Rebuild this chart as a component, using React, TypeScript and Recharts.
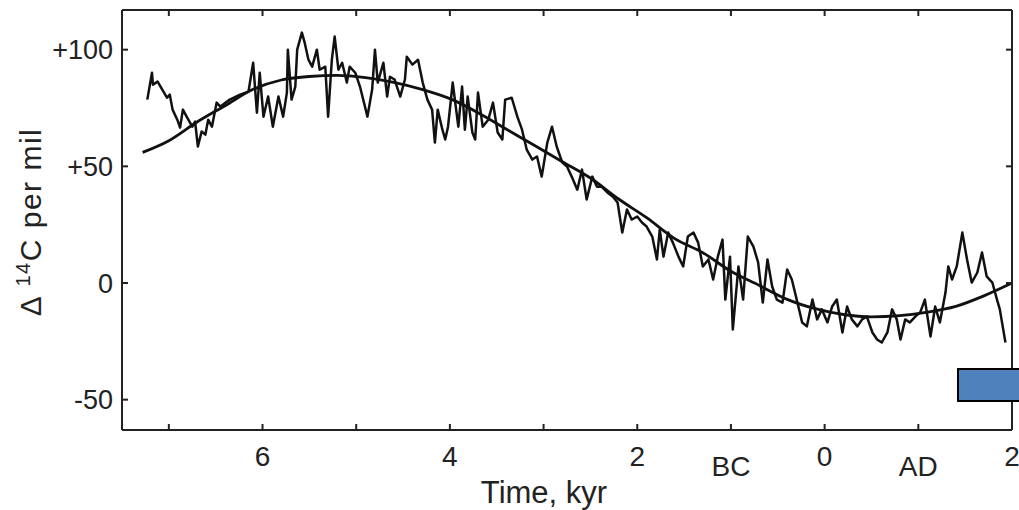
import { CartesianGrid, Line, LineChart, XAxis, YAxis } from 'recharts';

// time in kyr (negative = BC), values in per mil
const noisyTime = [
    -7.23, -7.18, -7.17, -7.12, -7.07, -7.02, -6.99, -6.96, -6.91, -6.88, -6.85, -6.81, -6.75, -6.72, -6.69, -6.65, -6.61, -6.58, -6.54, -6.49,
    -6.45, -6.35, -6.24, -6.15, -6.10, -6.06, -6.03, -5.99, -5.94, -5.89, -5.83, -5.78, -5.74, -5.73, -5.69, -5.65, -5.63, -5.58, -5.55, -5.51,
    -5.47, -5.42, -5.39, -5.33, -5.30, -5.26, -5.23, -5.19, -5.15, -5.10, -5.07, -5.01, -4.96, -4.88, -4.83, -4.80, -4.77, -4.71, -4.67, -4.64,
    -4.59, -4.53, -4.48, -4.46, -4.40, -4.34, -4.29, -4.24, -4.19, -4.16, -4.13, -4.08, -4.05, -4.02, -3.97, -3.91, -3.87, -3.84, -3.81, -3.76,
    -3.73, -3.70, -3.65, -3.59, -3.54, -3.49, -3.44, -3.41, -3.34, -3.28, -3.23, -3.18, -3.12, -3.07, -3.02, -2.96, -2.91, -2.86, -2.80, -2.75,
    -2.70, -2.64, -2.59, -2.54, -2.48, -2.43, -2.38, -2.32, -2.26, -2.21, -2.16, -2.11, -2.06, -2.00, -1.95, -1.90, -1.84, -1.79, -1.76, -1.72,
    -1.67, -1.62, -1.56, -1.51, -1.46, -1.40, -1.35, -1.30, -1.24, -1.19, -1.14, -1.09, -1.06, -1.01, -0.98, -0.92, -0.87, -0.82, -0.76, -0.71,
    -0.66, -0.61, -0.56, -0.51, -0.45, -0.40, -0.35, -0.29, -0.24, -0.19, -0.13, -0.08, -0.03, 0.03, 0.08, 0.13, 0.19, 0.24, 0.29, 0.35,
    0.40, 0.45, 0.51, 0.56, 0.61, 0.67, 0.72, 0.77, 0.81, 0.86, 0.91, 0.97, 1.02, 1.07, 1.13, 1.18, 1.23, 1.29, 1.32, 1.36,
    1.41, 1.47, 1.52, 1.57, 1.63, 1.68, 1.73, 1.79, 1.84, 1.87, 1.93,
];
const noisyValue = [
    78.6, 90.1, 85.0, 86.3, 82.9, 79.4, 80.7, 74.3, 70.0, 66.6, 74.3, 71.3, 67.0, 69.2, 58.5, 64.9, 63.6, 70.0, 67.0, 77.3,
    75.6, 78.6, 80.7, 82.0, 94.4, 73.0, 90.1, 71.3, 79.9, 67.0, 79.9, 71.3, 81.6, 100.0, 78.6, 84.2, 100.0, 107.3, 103.0, 95.7,
    92.7, 100.0, 91.4, 92.7, 71.3, 95.7, 105.6, 91.4, 94.4, 85.9, 92.7, 90.1, 84.2, 71.3, 82.9, 100.0, 85.9, 94.4, 79.9, 88.4,
    87.2, 79.9, 87.2, 97.0, 93.6, 95.7, 85.9, 78.6, 74.3, 60.2, 74.3, 65.7, 61.5, 67.0, 85.9, 67.0, 84.2, 65.7, 79.9, 64.5,
    61.5, 81.6, 67.0, 70.0, 77.3, 64.5, 61.5, 78.6, 79.4, 71.3, 65.7, 57.2, 52.9, 54.2, 45.6, 60.2, 67.0, 58.5, 51.6, 49.9,
    45.6, 40.0, 48.6, 35.8, 45.6, 41.3, 41.3, 38.8, 37.0, 34.5, 21.6, 31.5, 27.2, 28.5, 25.9, 24.2, 19.9, 10.1, 22.9, 11.3,
    21.6, 17.3, 11.3, 7.1, 19.9, 21.6, 17.3, 7.1, 10.1, 1.5, 11.3, 18.6, -7.1, 11.3, -19.9, 7.1, -7.1, 19.9, 15.6, 8.8,
    -8.4, 10.1, -1.5, -7.1, -8.4, 5.8, 1.5, -8.4, -16.9, -18.6, -7.1, -15.6, -11.3, -16.9, -10.1, -7.1, -21.2, -10.1, -15.6, -18.6,
    -15.6, -14.3, -21.2, -24.2, -25.5, -21.2, -11.3, -15.6, -24.2, -15.6, -16.9, -14.3, -12.6, -7.1, -22.9, -10.1, -16.9, -4.1, 7.1, 1.5,
    7.1, 21.6, 10.1, 0.2, 4.5, 13.1, 2.8, 0.2, -7.1, -11.3, -25.5,
];

const smoothTime = [
    -7.28, -7.0, -6.7, -6.4, -6.1, -5.8, -5.5, -5.2, -4.9, -4.6, -4.3, -4.0, -3.7, -3.4, -3.1, -2.8,
    -2.5, -2.2, -1.9, -1.6, -1.3, -1.0, -0.7, -0.4, -0.1, 0.2, 0.5, 0.8, 1.1, 1.4, 1.7, 2.0,
];
const smoothValue = [
    56, 61, 69, 76, 83, 87, 88.5, 89, 88, 86, 83, 79, 73, 66, 59, 52,
    45, 36, 28, 19, 13, 5, -1, -7, -11, -13.5, -14.5, -14, -12.5, -10, -5.5, 0,
];

const xTicks = [-7, -6, -5, -4, -3, -2, -1, 0, 1, 2];
const xTickLabels = ['', '6', '', '4', '', '2', 'BC', '0', 'AD', '2'];
const yTicks = [-50, 0, 50, 100];
const yTickLabels = ['-50', '0', '+50', '+100'];

const noisyData = noisyTime.map((t, i) => ({ t, v: noisyValue[i] }));
const smoothData = smoothTime.map((t, i) => ({ t, v: smoothValue[i] }));

const FONT = '"Liberation Sans", Arial, Helvetica, sans-serif';
const AXIS = '#222';
const TICK_LEN = 6;

function BottomTick({ x, y, payload }: any) {
    const label = xTickLabels[xTicks.indexOf(payload.value)] ?? '';
    const isWord = label === 'BC' || label === 'AD';
    return (
        <g>
            <line x1={x} x2={x} y1={y} y2={y - TICK_LEN} stroke={AXIS} strokeWidth={2} />
            <text x={x} y={y + (isWord ? 46 : 36)} textAnchor="middle" fontSize={28} fontFamily={FONT} fill="#222">
                {label}
            </text>
        </g>
    );
}

function TopTick({ x, y }: any) {
    return <line x1={x} x2={x} y1={y} y2={y + TICK_LEN} stroke={AXIS} strokeWidth={2} />;
}

function LeftTick({ x, y, payload }: any) {
    const label = yTickLabels[yTicks.indexOf(payload.value)] ?? '';
    return (
        <g>
            <line x1={x} x2={x + TICK_LEN} y1={y} y2={y} stroke={AXIS} strokeWidth={2} />
            <text x={x - 9} y={y} dy="0.36em" textAnchor="end" fontSize={27} fontFamily={FONT} fill="#222">
                {label}
            </text>
        </g>
    );
}

function RightTick({ x, y }: any) {
    return <line x1={x} x2={x - TICK_LEN} y1={y} y2={y} stroke={AXIS} strokeWidth={2} />;
}

function YLabel({ viewBox }: any) {
    const cx = viewBox.x + 30;
    const cy = viewBox.y + viewBox.height / 2 + 2;
    return (
        <text
            x={cx}
            y={cy}
            transform={`rotate(-90 ${cx} ${cy})`}
            textAnchor="middle"
            dy="0.36em"
            fontSize={30}
            letterSpacing={1.5}
            fontFamily={FONT}
            fill="#222"
        >
            {'Δ '}
            <tspan fontSize={20} dy={-11}>14</tspan>
            <tspan dy={11}>C per mil</tspan>
        </text>
    );
}

function XLabel({ viewBox }: any) {
    return (
        <text x={viewBox.x + 422} y={viewBox.y + 73} textAnchor="middle" fontSize={31} fontFamily={FONT} fill="#222">
            Time, kyr
        </text>
    );
}

export default function App() {
    return (
        <div style={{ position: 'absolute', left: 0, top: 0, width: 1019, height: 510, background: '#fff' }}>
            <LineChart width={1019} height={510} margin={{ top: 0, right: 0, bottom: 0, left: 0 }}>
                <XAxis
                    xAxisId="bottom"
                    dataKey="t"
                    type="number"
                    domain={[-7.5, 2]}
                    ticks={xTicks}
                    allowDataOverflow
                    orientation="bottom"
                    height={80}
                    stroke={AXIS}
                    strokeWidth={2}
                    tickLine={false}
                    tickSize={0}
                    tickMargin={0}
                    tick={<BottomTick />}
                    interval={0}
                    label={<XLabel />}
                />
                <XAxis
                    xAxisId="top"
                    dataKey="t"
                    type="number"
                    domain={[-7.5, 2]}
                    ticks={xTicks}
                    allowDataOverflow
                    orientation="top"
                    height={10}
                    stroke={AXIS}
                    strokeWidth={2}
                    tickLine={false}
                    tickSize={0}
                    tickMargin={0}
                    tick={<TopTick />}
                    interval={0}
                />
                <YAxis
                    yAxisId="left"
                    type="number"
                    domain={[-63, 117]}
                    ticks={yTicks}
                    allowDataOverflow
                    orientation="left"
                    width={122}
                    stroke={AXIS}
                    strokeWidth={2}
                    tickLine={false}
                    tickSize={0}
                    tickMargin={0}
                    tick={<LeftTick />}
                    interval={0}
                    label={<YLabel />}
                />
                <YAxis
                    yAxisId="right"
                    type="number"
                    domain={[-63, 117]}
                    ticks={yTicks}
                    allowDataOverflow
                    orientation="right"
                    width={7}
                    stroke={AXIS}
                    strokeWidth={2}
                    tickLine={false}
                    tickSize={0}
                    tickMargin={0}
                    tick={<RightTick />}
                    interval={0}
                />
                <CartesianGrid xAxisId="bottom" yAxisId="left" horizontal={false} vertical={false} />
                <Line
                    xAxisId="bottom"
                    yAxisId="left"
                    data={noisyData}
                    dataKey="v"
                    type="linear"
                    stroke="#111"
                    strokeWidth={2.5}
                    strokeLinejoin="round"
                    dot={false}
                    isAnimationActive={false}
                />
                <Line
                    xAxisId="bottom"
                    yAxisId="left"
                    data={smoothData}
                    dataKey="v"
                    type="monotone"
                    stroke="#111"
                    strokeWidth={2.8}
                    dot={false}
                    isAnimationActive={false}
                />
            </LineChart>
            <div
                style={{
                    position: 'absolute',
                    left: 957,
                    top: 368,
                    width: 70,
                    height: 30,
                    border: '2px solid #000',
                    background: '#4f81bd',
                }}
            />
        </div>
    );
}
